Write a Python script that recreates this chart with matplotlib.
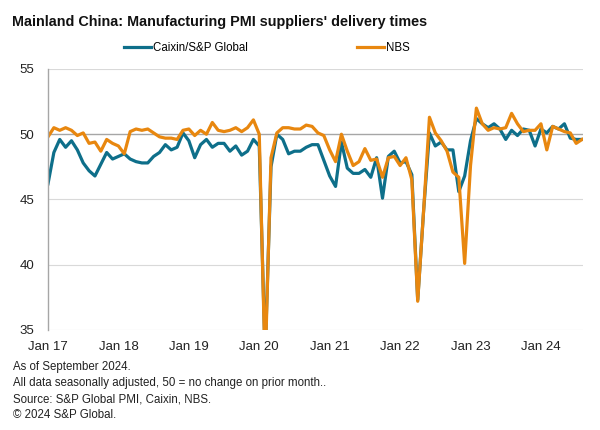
import matplotlib
matplotlib.use("Agg")
import matplotlib.pyplot as plt
import numpy as np

plt.rcParams['font.family'] = ['Liberation Sans', 'DejaVu Sans']

# monthly, Jan 2017 .. Aug 2024
caixin = [
    46.2, 48.6, 49.6, 49.0, 49.5, 48.8, 47.8, 47.2, 46.8, 47.7, 48.6, 48.1,   # 2017
    48.3, 48.5, 48.1, 47.9, 47.8, 47.8, 48.3, 48.6, 49.2, 48.8, 49.0, 50.1,   # 2018
    49.5, 48.2, 49.2, 49.6, 49.0, 49.3, 49.3, 48.7, 49.1, 48.4, 48.7, 49.6,   # 2019
    49.1, 33.0, 47.5, 50.0, 49.6, 48.5, 48.7, 48.7, 49.0, 49.2, 49.2, 48.0,   # 2020
    46.8, 46.0, 49.4, 47.4, 47.0, 47.0, 47.3, 46.7, 48.2, 45.1, 48.3, 48.7,   # 2021
    47.8, 47.9, 46.9, 37.3, 44.1, 50.1, 49.1, 49.4, 48.8, 48.8, 45.6, 46.8,   # 2022
    49.5, 51.2, 50.8, 50.5, 50.8, 50.4, 49.6, 50.3, 49.9, 50.4, 50.3, 49.1,   # 2023
    50.4, 50.1, 50.6, 50.4, 50.8, 49.7, 49.6, 49.6,                           # 2024
]
nbs = [
    49.8, 50.5, 50.3, 50.5, 50.3, 49.9, 50.1, 49.3, 49.4, 48.7, 49.6, 49.3,   # 2017
    49.1, 48.5, 50.2, 50.4, 50.3, 50.4, 50.1, 49.8, 49.7, 49.7, 49.6, 50.3,   # 2018
    50.4, 49.9, 50.3, 50.0, 50.9, 50.3, 50.2, 50.3, 50.5, 50.2, 50.5, 51.1,   # 2019
    50.0, 32.1, 48.2, 50.1, 50.5, 50.5, 50.4, 50.4, 50.7, 50.6, 50.1, 49.9,   # 2020
    48.8, 47.9, 50.0, 48.7, 47.6, 47.9, 48.9, 48.0, 48.1, 46.7, 48.2, 48.3,   # 2021
    47.6, 48.2, 46.5, 37.2, 44.1, 51.3, 50.1, 49.5, 48.7, 47.1, 46.7, 40.1,   # 2022
    47.6, 52.0, 50.8, 50.3, 50.5, 50.4, 50.5, 51.6, 50.8, 50.2, 50.3, 50.3,   # 2023
    50.8, 48.8, 50.6, 50.4, 50.2, 50.1, 49.3, 49.6,                           # 2024
]
tick_labels = ['Jan 17', 'Jan 18', 'Jan 19', 'Jan 20', 'Jan 21', 'Jan 22', 'Jan 23', 'Jan 24']
notes = [
    'As of September 2024.',
    'All data seasonally adjusted, 50 = no change on prior month..',
    'Source: S&P Global PMI, Caixin, NBS.',
    '\u00a9 2024 S&P Global.',
]

teal = '#0E6F8A'
orange = '#E8870F'

fig = plt.figure(figsize=(6, 4.3), dpi=100)
ax = fig.add_axes([0.08, 0.2326, 0.892, 0.607])

x = np.arange(len(nbs))
ax.plot(x, caixin, color=teal, lw=2.3, label='Caixin/S&P Global', solid_joinstyle='round')
ax.plot(x, nbs, color=orange, lw=2.3, label='NBS', solid_joinstyle='round')

for v in [35, 40, 45, 55]:
    ax.axhline(v, color='#D9D9D9', lw=0.8, zorder=0)
ax.axhline(50, color='#A6A6A6', lw=1.0, zorder=0)

ax.set_ylim(35, 55)
ax.set_xlim(0, 91.2)
ax.set_yticks([35, 40, 45, 50, 55])
ax.set_xticks(np.arange(0, 96, 12)[:len(tick_labels)])
ax.set_xticklabels(tick_labels)
ax.tick_params(length=0, labelsize=9.5, colors='#222222')
ax.tick_params(axis='y', pad=10)
ax.tick_params(axis='x', pad=8)
for s in ['top', 'right', 'bottom']:
    ax.spines[s].set_visible(False)
ax.spines['left'].set_color('#A6A6A6')
ax.spines['left'].set_linewidth(1.0)

fig.text(0.02, 0.94, "Mainland China: Manufacturing PMI suppliers' delivery times",
         fontsize=10.4, fontweight='bold', color='#111111')
fig.legend(loc='center', bbox_to_anchor=(0.445, 0.888), ncol=2, frameon=False,
           fontsize=8.3, handlelength=2.3, columnspacing=9.5, handletextpad=0.2)

for k, t in enumerate(notes):
    fig.text(0.021, 1 - (367 + 16 * k) / 430, t, fontsize=8.3, va='center', color='#222222')

fig.savefig('out.png', dpi=100)
